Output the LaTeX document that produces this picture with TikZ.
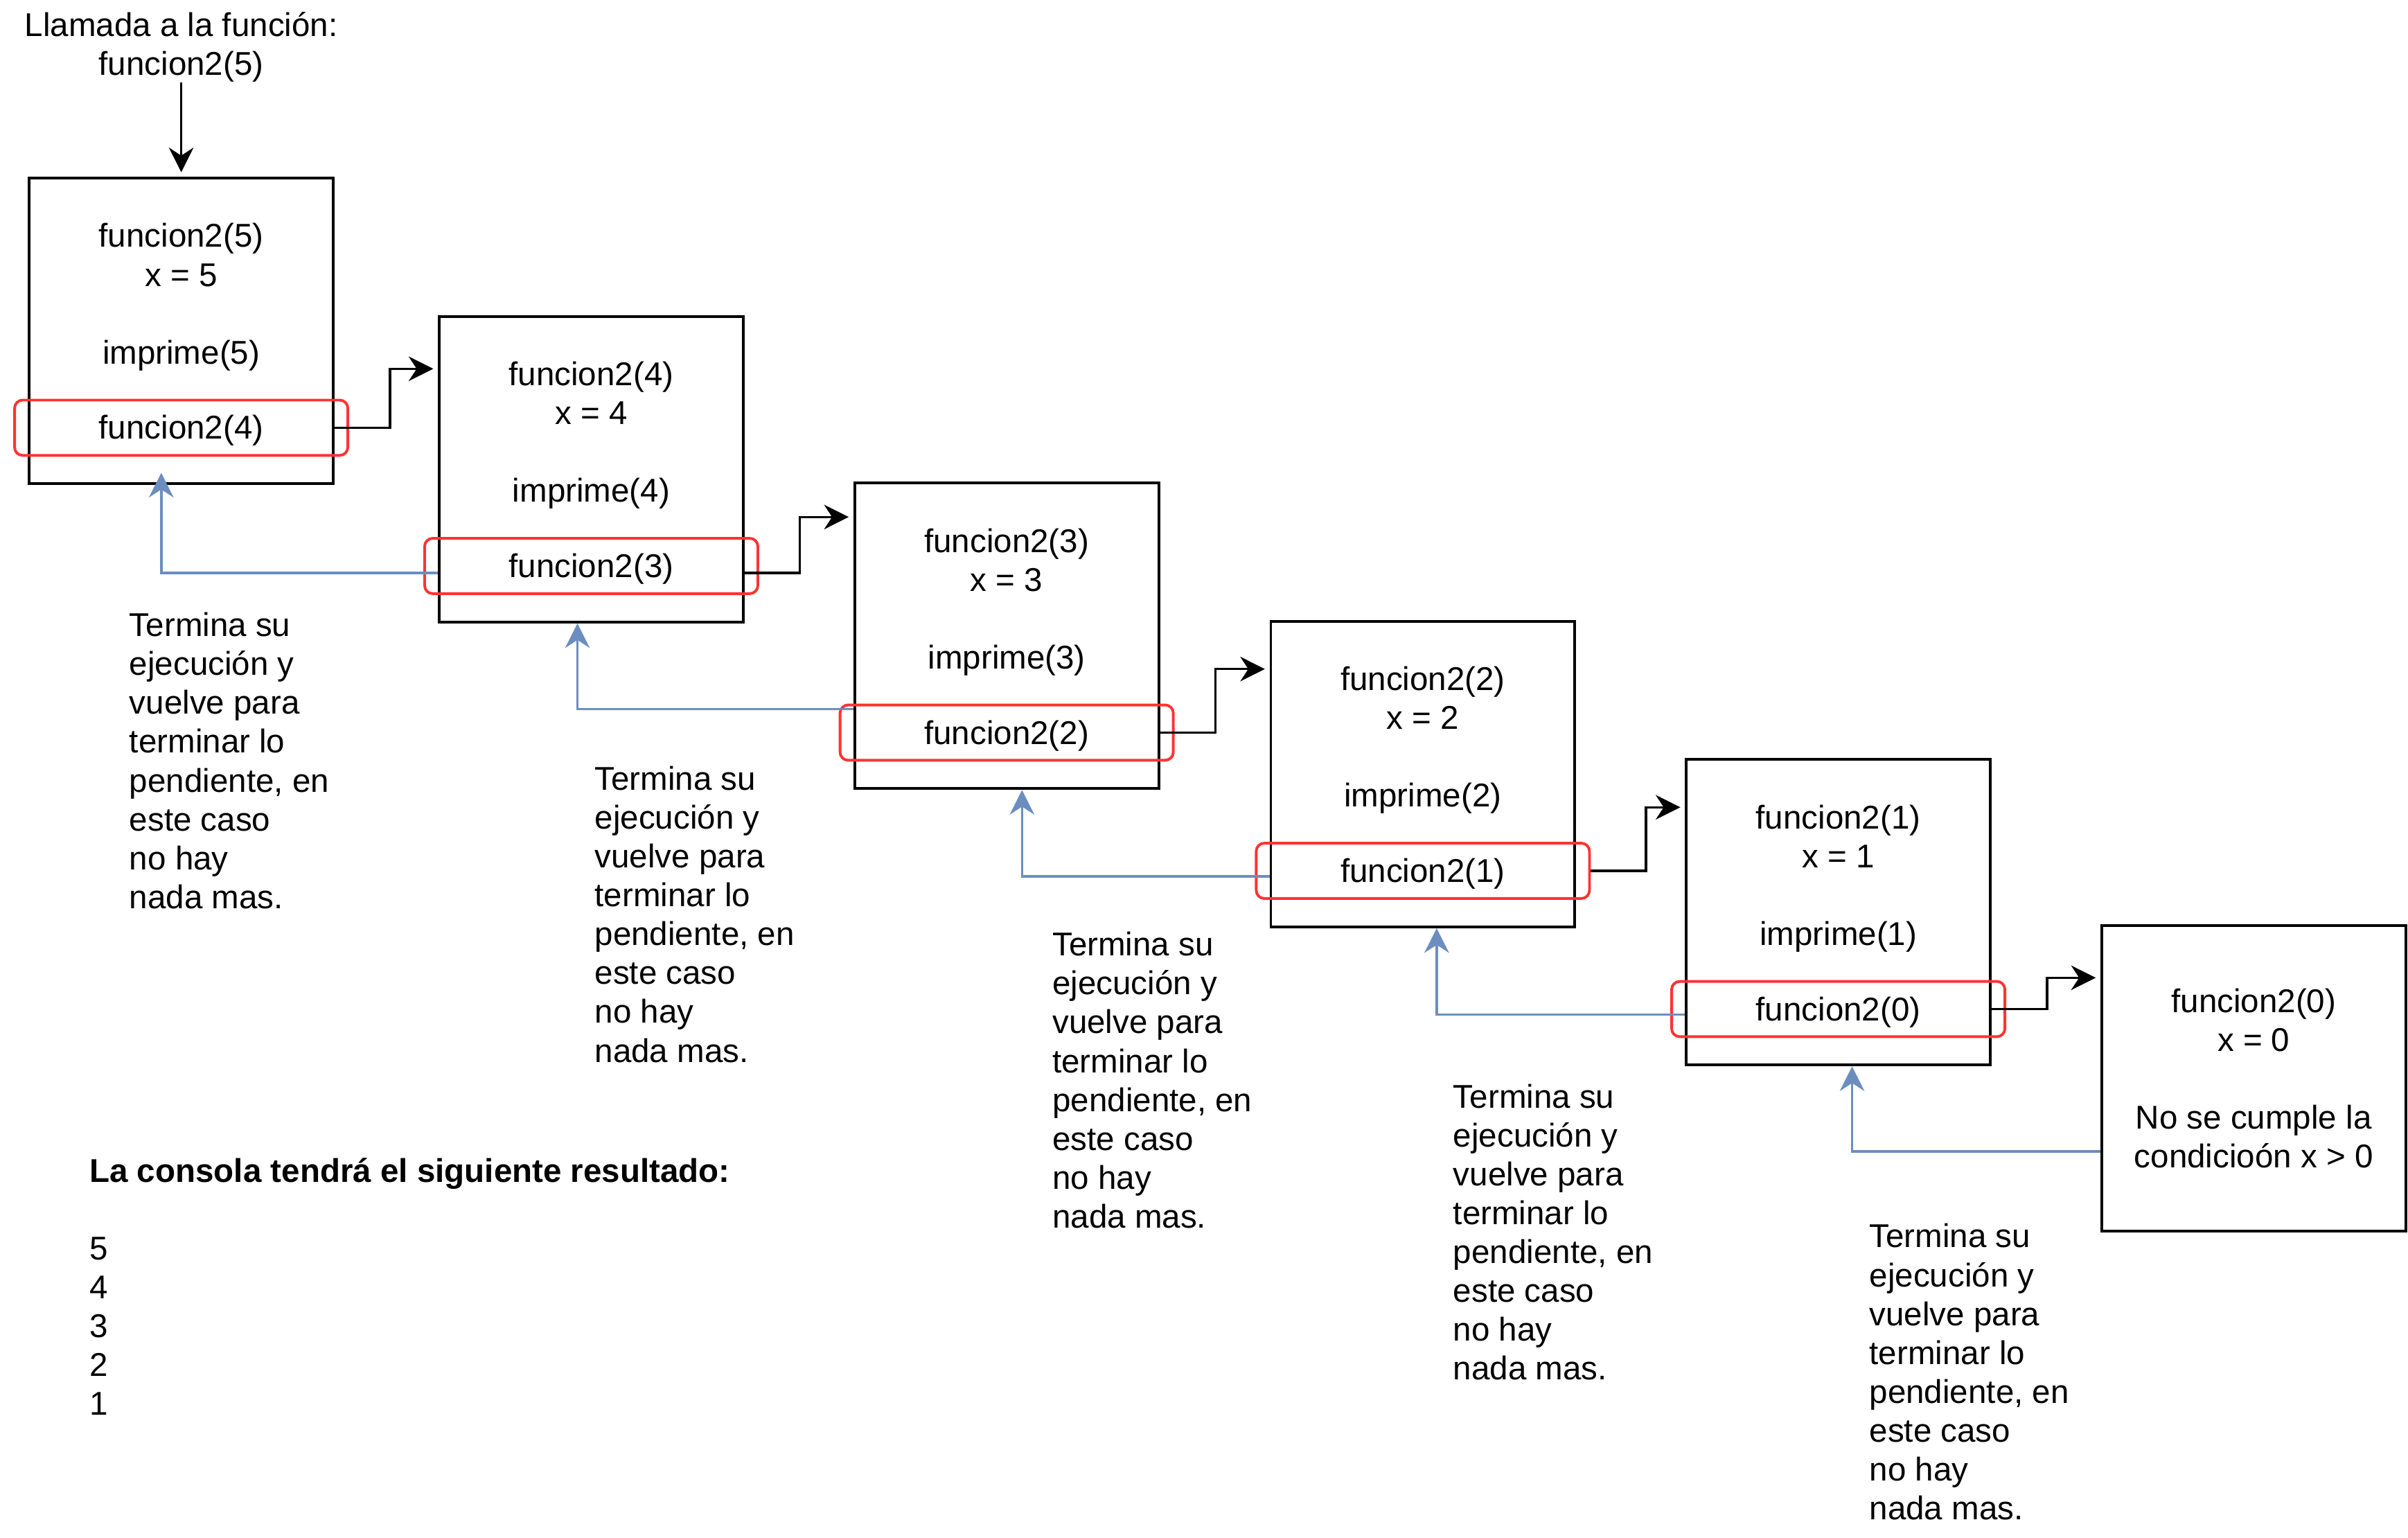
\documentclass[tikz,border=0pt]{standalone}
\usepackage{fontspec}
\setmainfont{Liberation Sans}
\usetikzlibrary{positioning,arrows.meta}
\definecolor{callred}{HTML}{FF3333}
\definecolor{backblue}{HTML}{6C8EBF}

\begin{document}
\begin{tikzpicture}[
    font=\fontsize{12.2}{14.4}\selectfont,
    box/.style={draw, line width=1pt, minimum width=3.96cm, minimum height=3.98cm, inner sep=0pt, align=center},
    call/.style={draw=callred, line width=1pt, rounded corners=3pt, minimum width=4.34cm, minimum height=0.72cm, inner sep=0pt, text height=11pt, text depth=2.5pt},
    txt/.style={align=center, inner sep=0pt},
    note/.style={align=left, inner sep=0pt, anchor=north west},
    flow/.style={-{Stealth[length=3.2mm, width=3.2mm]}, line width=0.9pt, shorten >=0.06cm},
    back/.style={-{Stealth[length=3.2mm, width=3.2mm]}, draw=backblue, line width=0.9pt}
  ]
\useasboundingbox (0,0) rectangle (31.36,-20.02);

% first call
\node[txt] (start) at (2.36,-0.61) {Llamada a la función:\\funcion2(5)};

% one box per call
\node[box] (b5) at (2.36,-4.31) {};
\node[box] (b4) at (7.70,-6.11) {};
\node[box] (b3) at (13.11,-8.28) {};
\node[box] (b2) at (18.53,-10.08) {};
\node[box] (b1) at (23.94,-11.88) {};
\node[box] (b0) at (29.35,-14.04) {funcion2(0)\\x = 0\\ \mbox{}\\No se cumple la\\condicioón x > 0};

\node[txt, below=0.6cm of b5.north] (t5) {funcion2(5)\\x = 5\\ \mbox{}\\imprime(5)};
\node[txt, below=0.6cm of b4.north] (t4) {funcion2(4)\\x = 4\\ \mbox{}\\imprime(4)};
\node[txt, below=0.6cm of b3.north] (t3) {funcion2(3)\\x = 3\\ \mbox{}\\imprime(3)};
\node[txt, below=0.6cm of b2.north] (t2) {funcion2(2)\\x = 2\\ \mbox{}\\imprime(2)};
\node[txt, below=0.6cm of b1.north] (t1) {funcion2(1)\\x = 1\\ \mbox{}\\imprime(1)};

% pending calls
\node[call, below=2.89cm of b5.north] (c4) {funcion2(4)};
\node[call, below=2.89cm of b4.north] (c3) {funcion2(3)};
\node[call, below=2.89cm of b3.north] (c2) {funcion2(2)};
\node[call, below=2.89cm of b2.north] (c1) {funcion2(1)};
\node[call, below=2.89cm of b1.north] (c0) {funcion2(0)};

\draw[flow] (start) -- (b5);
\draw[flow] (b5.east |- c4) -- ++(0.72,0) |- ([yshift=-0.7cm]b4.north west);
\draw[flow] ([yshift=-3.36cm]b4.north east) -- ++(0.72,0) |- ([yshift=-0.46cm]b3.north west);
\draw[flow] (b3.east |- c2) -- ++(0.72,0) |- ([yshift=-0.64cm]b2.north west);
\draw[flow] (c1.east) -- ++(0.72,0) |- ([yshift=-0.64cm]b1.north west);
\draw[flow] (b1.east |- c0) -- ++(0.72,0) |- ([yshift=-0.7cm]b0.north west);

% returns
\draw[back, shorten >=-0.16cm] ([yshift=-3.36cm]b4.north west) -| ([xshift=-0.26cm]b5.south);
\draw[back] ([yshift=-2.96cm]b3.north west) -| ([xshift=-0.18cm]b4.south);
\draw[back] ([yshift=-3.34cm]b2.north west) -| ([xshift=0.2cm]b3.south);
\draw[back] ([yshift=-3.34cm]b1.north west) -| ([xshift=0.18cm]b2.south);
\draw[back] ([yshift=-2.96cm]b0.north west) -| ([xshift=0.18cm]b1.south);

\node[note] (n1) at (1.68,-7.97) {Termina su\\ejecución y\\vuelve para\\terminar lo\\pendiente, en\\este caso\\no hay\\nada mas.};
\node[note] (n2) at (7.74,-9.97) {Termina su\\ejecución y\\vuelve para\\terminar lo\\pendiente, en\\este caso\\no hay\\nada mas.};
\node[note] (n3) at (13.70,-12.13) {Termina su\\ejecución y\\vuelve para\\terminar lo\\pendiente, en\\este caso\\no hay\\nada mas.};
\node[note] (n4) at (18.92,-14.11) {Termina su\\ejecución y\\vuelve para\\terminar lo\\pendiente, en\\este caso\\no hay\\nada mas.};
\node[note] (n5) at (24.34,-15.93) {Termina su\\ejecución y\\vuelve para\\terminar lo\\pendiente, en\\este caso\\no hay\\nada mas.};

% console output
\node[note] (out) at (1.16,-15.07) {\textbf{La consola tendrá el siguiente resultado:}\\ \mbox{}\\5\\4\\3\\2\\1};
\end{tikzpicture}
\end{document}
